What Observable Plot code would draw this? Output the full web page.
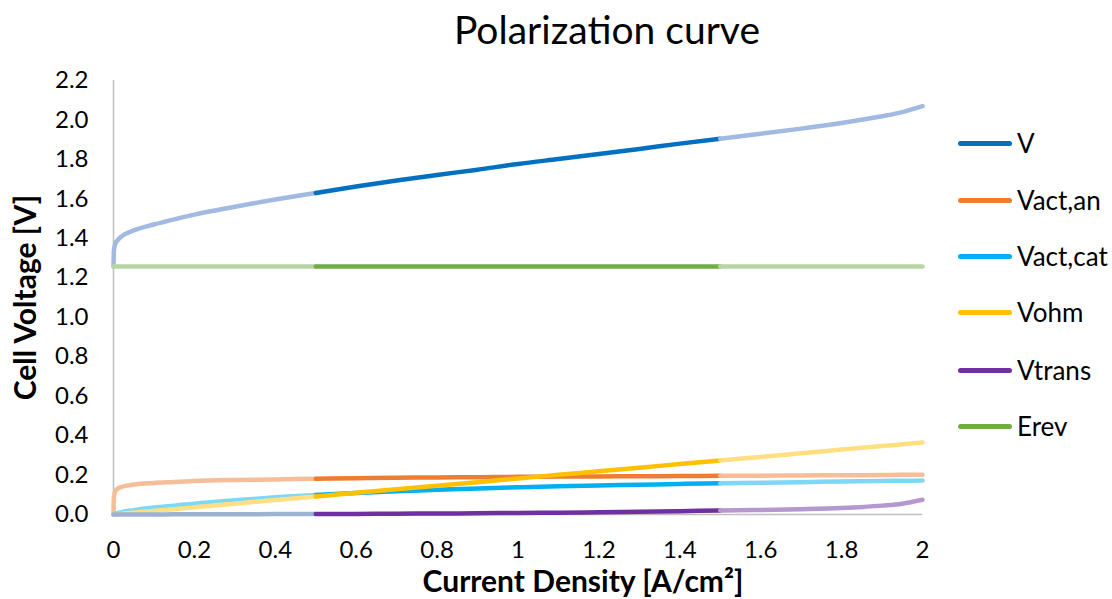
<!DOCTYPE html>
<html>
<head>
<meta charset="utf-8">
<script src="https://cdn.jsdelivr.net/npm/d3@7"></script>
<script src="https://cdn.jsdelivr.net/npm/@observablehq/plot@0.6"></script>
<style>
  body { margin: 0; background: #fff; font-family: Lato, "Open Sans", sans-serif; }
  #chart { position: relative; width: 1112px; height: 599px; overflow: hidden; }
  #title { height: 60px; line-height: 58px; text-align: center; font-size: 39px; color: #000; padding-left: 102px; box-sizing: border-box; }
  #xlabel { position: absolute; left: 583px; top: 562px; transform: translateX(-50%); font-size: 30px; font-weight: bold; white-space: nowrap; color: #000; }
  #legend { position: absolute; left: 958px; top: 0; }
  .item { position: absolute; left: 0; display: flex; align-items: center; height: 30px; white-space: nowrap; font-size: 26px; color: #000; }
  .swatch { width: 54px; height: 5px; border-radius: 2.5px; margin-right: 5px; }
  g[aria-label="y-axis label"] text { font-weight: bold; font-size: 30px; }
</style>
</head>
<body>
<div id="chart">
  <div id="title">Polarization curve</div>
  <div id="xlabel">Current Density [A/cm²]</div>
  <div id="legend"></div>
</div>
<script>
// Current density samples [A/cm²]
const current = [0, 0.001, 0.005, 0.01, 0.02, 0.05, 0.1, 0.15, 0.2, 0.3, 0.4, 0.5, 0.6, 0.7, 0.8, 0.9, 1.0, 1.1, 1.2, 1.3, 1.4, 1.5, 1.6, 1.7, 1.8, 1.9, 1.95, 2.0];

// Voltage contributions [V]
const V       = [1.257, 1.340, 1.375, 1.390, 1.410, 1.440, 1.470, 1.496, 1.520, 1.560, 1.597, 1.630, 1.663, 1.693, 1.721, 1.748, 1.777, 1.802, 1.827, 1.853, 1.880, 1.905, 1.930, 1.956, 1.985, 2.019, 2.040, 2.070];
const VactAn  = [0, 0.090, 0.120, 0.130, 0.140, 0.152, 0.160, 0.165, 0.170, 0.175, 0.178, 0.181, 0.184, 0.186, 0.188, 0.189, 0.191, 0.192, 0.193, 0.194, 0.195, 0.196, 0.197, 0.198, 0.199, 0.200, 0.201, 0.201];
const VactCat = [0, 0.001, 0.004, 0.007, 0.012, 0.022, 0.035, 0.045, 0.055, 0.072, 0.087, 0.099, 0.109, 0.118, 0.125, 0.132, 0.138, 0.143, 0.147, 0.151, 0.155, 0.158, 0.161, 0.164, 0.167, 0.170, 0.171, 0.172];
const Vohm    = [0, 0.0002, 0.0009, 0.0018, 0.0037, 0.0091, 0.018, 0.027, 0.037, 0.055, 0.073, 0.091, 0.110, 0.128, 0.146, 0.164, 0.183, 0.201, 0.219, 0.237, 0.256, 0.274, 0.292, 0.310, 0.329, 0.347, 0.356, 0.365];
const Vtrans  = [0, 0, 0, 0, 0, 0, 0, 0.001, 0.001, 0.001, 0.002, 0.002, 0.003, 0.004, 0.005, 0.006, 0.008, 0.009, 0.011, 0.014, 0.017, 0.020, 0.023, 0.027, 0.033, 0.045, 0.055, 0.075];
const Erev    = [1.257, 1.257, 1.257, 1.257, 1.257, 1.257, 1.257, 1.257, 1.257, 1.257, 1.257, 1.257, 1.257, 1.257, 1.257, 1.257, 1.257, 1.257, 1.257, 1.257, 1.257, 1.257, 1.257, 1.257, 1.257, 1.257, 1.257, 1.257];

const seriesNames = ["V", "Vact,an", "Vact,cat", "Vohm", "Vtrans", "Erev"];
const seriesValues = [V, VactAn, VactCat, Vohm, Vtrans, Erev];

// Full colour inside the highlighted range, pale colours before and after it
const strongColors = ["#0070c0", "#ed7d31", "#00b0f0", "#ffc000", "#7030a0", "#70ad47"];
const paleBefore   = ["#a2b9e2", "#f6be98", "#7fd7f7", "#ffdf80", "#9cb2d2", "#b7d6a3"];
const paleAfter    = ["#a2b9e2", "#f6be98", "#7fd7f7", "#ffdf80", "#b797cf", "#b7d6a3"];
const highlight = [0.5, 1.5];

const xTicks = [0, 0.2, 0.4, 0.6, 0.8, 1, 1.2, 1.4, 1.6, 1.8, 2];
const yTicks = [0, 0.2, 0.4, 0.6, 0.8, 1.0, 1.2, 1.4, 1.6, 1.8, 2.0, 2.2];

// Split every series into three pieces; boundary samples belong to both neighbours
const rows = [];
seriesNames.forEach((name, s) => {
  current.forEach((x, i) => {
    const y = seriesValues[s][i];
    const segs = [];
    if (x <= highlight[0]) segs.push(0);
    if (x >= highlight[0] && x <= highlight[1]) segs.push(1);
    if (x >= highlight[1]) segs.push(2);
    for (const seg of segs) {
      const color = seg === 1 ? strongColors[s] : seg === 0 ? paleBefore[s] : paleAfter[s];
      rows.push({x, y, key: name + "|" + seg, color});
    }
  });
});

const chart = Plot.plot({
  width: 1112,
  height: 539,
  marginTop: 20,
  marginBottom: 85,
  marginLeft: 113,
  marginRight: 190,
  style: {fontFamily: "Lato, 'Open Sans', sans-serif", fontSize: "24px", color: "#000", background: "#fff"},
  x: {domain: [0, 2]},
  y: {domain: [0, 2.2]},
  color: {type: "identity"},
  marks: [
    Plot.ruleX([0], {stroke: "#bfbfbf", strokeWidth: 1.5}),
    Plot.ruleY([0], {stroke: "#bfbfbf", strokeWidth: 1.5}),
    Plot.axisX(xTicks, {tickSize: 0, tickPadding: 26, label: null, tickFormat: d => String(d)}),
    Plot.axisY(yTicks, {tickSize: 0, tickPadding: 25, tickFormat: d3.format(".1f"),
      label: "Cell Voltage [V]", labelAnchor: "center", labelArrow: "none", labelOffset: 99}),
    Plot.line(rows, {x: "x", y: "y", z: "key", stroke: "color", strokeWidth: 4.5,
      strokeLinecap: "round", strokeLinejoin: "round", curve: "monotone-x"})
  ]
});
document.getElementById("chart").insertBefore(chart, document.getElementById("xlabel"));

// Legend
const legend = document.getElementById("legend");
const legendY = [143, 200, 256, 312, 370, 426];
seriesNames.forEach((name, s) => {
  const item = document.createElement("div");
  item.className = "item";
  item.style.top = (legendY[s] - 15) + "px";
  const sw = document.createElement("div");
  sw.className = "swatch";
  sw.style.background = strongColors[s];
  const label = document.createElement("span");
  label.textContent = name;
  item.appendChild(sw);
  item.appendChild(label);
  legend.appendChild(item);
});
</script>
</body>
</html>
